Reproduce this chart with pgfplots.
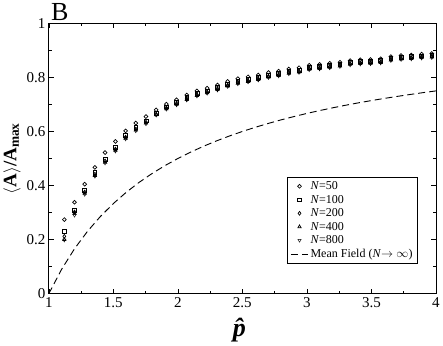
\documentclass[border=0pt]{standalone}
\usepackage{fontspec}
\setmainfont{Liberation Serif}
\usepackage{pgfplots}
\pgfplotsset{compat=1.18}

\pgfplotsset{
  simmark/.style={black, only marks, mark size=1.9pt,
    mark options={solid, line width=0.7pt}},
}

\begin{document}
\begin{tikzpicture}
\begin{axis}[
  scale only axis,
  width=386.6pt, height=270pt,
  xmin=1, xmax=4, ymin=0, ymax=1,
  xtick={1,1.5,2,2.5,3,3.5,4}, minor x tick num=1,
  ytick={0,0.2,0.4,0.6,0.8,1}, minor y tick num=1,
  tick align=inside,
  major tick length=5pt, minor tick length=3pt,
  axis line style={line width=0.8pt},
  tick style={line width=0.6pt, black},
  /pgf/number format/assume math mode=true,
  tick label style={font=\fontsize{15}{15}\selectfont},
  xlabel={\fontsize{26}{26}\selectfont\textbf{\textit{\^{p}}}},
  ylabel={\fontsize{19}{19}\selectfont\textbf{$\langle$A$\rangle$/A\textsubscript{max}}},
  xlabel style={yshift=-4pt},
  ylabel style={yshift=-1pt},
  clip=false,
  legend style={at={(0.953,0.113)}, anchor=south east, draw=black,
    font=\fontsize{12}{13}\selectfont, legend cell align=left, fill=white},
]
% N=50
\addplot[simmark, mark=o] coordinates {
(1.120,0.274) (1.199,0.338) (1.278,0.405) (1.357,0.467) (1.436,0.522)
(1.516,0.563) (1.595,0.602) (1.674,0.631) (1.753,0.655) (1.832,0.680)
(1.911,0.701) (1.990,0.717) (2.069,0.735) (2.148,0.750) (2.227,0.760)
(2.307,0.772) (2.386,0.785) (2.465,0.795) (2.544,0.802) (2.623,0.809)
(2.702,0.818) (2.781,0.823) (2.860,0.831) (2.939,0.836) (3.018,0.845)
(3.098,0.848) (3.177,0.852) (3.256,0.856) (3.335,0.862) (3.414,0.865)
(3.493,0.866) (3.572,0.869) (3.651,0.877) (3.730,0.881) (3.809,0.883)
(3.889,0.886) (3.968,0.888)};
\addlegendentry{\textit{N}=50}
% N=100
\addplot[simmark, mark=square] coordinates {
(1.120,0.230) (1.199,0.309) (1.278,0.383) (1.357,0.449) (1.436,0.498)
(1.516,0.542) (1.595,0.585) (1.674,0.614) (1.753,0.639) (1.832,0.668)
(1.911,0.691) (1.990,0.707) (2.069,0.725) (2.148,0.740) (2.227,0.750)
(2.307,0.762) (2.386,0.775) (2.465,0.785) (2.544,0.792) (2.623,0.799)
(2.702,0.808) (2.781,0.814) (2.860,0.822) (2.939,0.827) (3.018,0.837)
(3.098,0.840) (3.177,0.844) (3.256,0.849) (3.335,0.855) (3.414,0.858)
(3.493,0.859) (3.572,0.862) (3.651,0.871) (3.730,0.875) (3.809,0.877)
(3.889,0.880) (3.968,0.882)};
\addlegendentry{\textit{N}=100}
% N=200
\addplot[simmark, mark=diamond] coordinates {
(1.120,0.212) (1.199,0.302) (1.278,0.376) (1.357,0.442) (1.436,0.491)
(1.516,0.535) (1.595,0.579) (1.674,0.609) (1.753,0.634) (1.832,0.664)
(1.911,0.687) (1.990,0.703) (2.069,0.721) (2.148,0.736) (2.227,0.746)
(2.307,0.758) (2.386,0.771) (2.465,0.781) (2.544,0.788) (2.623,0.795)
(2.702,0.804) (2.781,0.810) (2.860,0.818) (2.939,0.823) (3.018,0.833)
(3.098,0.836) (3.177,0.840) (3.256,0.845) (3.335,0.851) (3.414,0.854)
(3.493,0.855) (3.572,0.858) (3.651,0.867) (3.730,0.871) (3.809,0.873)
(3.889,0.876) (3.968,0.878)};
\addlegendentry{\textit{N}=200}
% N=400
\addplot[simmark, mark=triangle] coordinates {
(1.120,0.200) (1.199,0.297) (1.278,0.371) (1.357,0.437) (1.436,0.486)
(1.516,0.530) (1.595,0.575) (1.674,0.605) (1.753,0.631) (1.832,0.662)
(1.911,0.684) (1.990,0.700) (2.069,0.718) (2.148,0.733) (2.227,0.743)
(2.307,0.755) (2.386,0.768) (2.465,0.778) (2.544,0.785) (2.623,0.792)
(2.702,0.801) (2.781,0.807) (2.860,0.815) (2.939,0.820) (3.018,0.830)
(3.098,0.833) (3.177,0.837) (3.256,0.842) (3.335,0.848) (3.414,0.851)
(3.493,0.852) (3.572,0.855) (3.651,0.864) (3.730,0.868) (3.809,0.870)
(3.889,0.873) (3.968,0.875)};
\addlegendentry{\textit{N}=400}
% N=800
\addplot[simmark, mark=triangle, mark options={rotate=180}] coordinates {
(1.120,0.198) (1.199,0.290) (1.278,0.367) (1.357,0.434) (1.436,0.483)
(1.516,0.527) (1.595,0.572) (1.674,0.602) (1.753,0.628) (1.832,0.660)
(1.911,0.682) (1.990,0.698) (2.069,0.716) (2.148,0.731) (2.227,0.741)
(2.307,0.753) (2.386,0.766) (2.465,0.776) (2.544,0.783) (2.623,0.790)
(2.702,0.799) (2.781,0.805) (2.860,0.813) (2.939,0.818) (3.018,0.828)
(3.098,0.831) (3.177,0.835) (3.256,0.840) (3.335,0.846) (3.414,0.849)
(3.493,0.850) (3.572,0.853) (3.651,0.862) (3.730,0.866) (3.809,0.868)
(3.889,0.871) (3.968,0.873)};
\addlegendentry{\textit{N}=800}
% mean field
\addplot[black, line width=0.9pt, dash pattern=on 7pt off 4pt, no marks] coordinates {
  (1.0,0) (1.1,0.0909) (1.2,0.1667) (1.3,0.2308) (1.4,0.2857) (1.5,0.3333)
  (1.6,0.375) (1.7,0.4118) (1.8,0.4444) (1.9,0.4737) (2.0,0.5)
  (2.1,0.5238) (2.2,0.5455) (2.3,0.5652) (2.4,0.5833) (2.5,0.6)
  (2.6,0.6154) (2.7,0.6296) (2.8,0.6429) (2.9,0.6552) (3.0,0.6667)
  (3.1,0.6774) (3.2,0.6875) (3.3,0.6970) (3.4,0.7059) (3.5,0.7143)
  (3.6,0.7222) (3.7,0.7297) (3.8,0.7368) (3.9,0.7436) (4.0,0.75)};
\addlegendentry{Mean Field (\textit{N}$\rightarrow\infty$)}
\node[anchor=south west, inner xsep=0pt, inner ysep=3pt, xshift=2pt,
  font=\fontsize{26}{26}\selectfont] at (rel axis cs:0,1) {B};
\end{axis}
\end{tikzpicture}
\end{document}
